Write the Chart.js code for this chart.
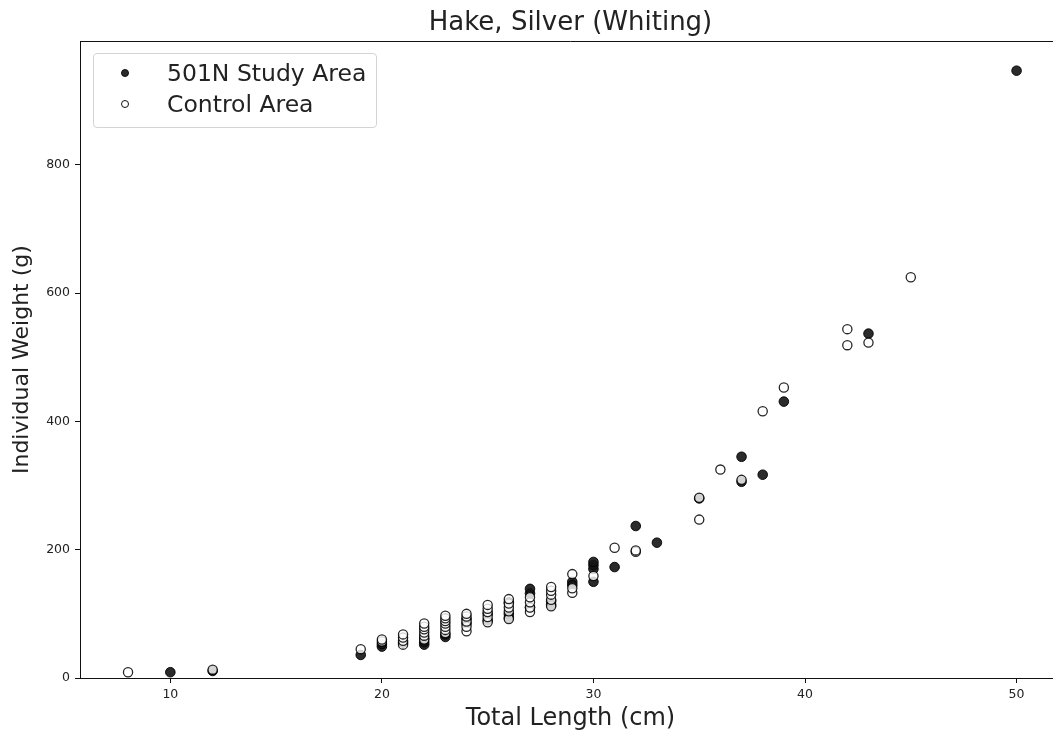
<!DOCTYPE html>
<html>
<head>
<meta charset="utf-8">
<title>Hake, Silver (Whiting)</title>
<script src="https://cdn.jsdelivr.net/npm/chart.js@4.4.1/dist/chart.umd.min.js"></script>
<style>
    html, body {
        margin: 0;
        padding: 0;
        background: #fff;
        overflow: hidden;
    }
    #wrap {
        position: relative;
        width: 1070px;
        height: 734px;
    }
    #leyenda {
        position: absolute;
        left: 93px;
        top: 53px;
        width: 282px;
        height: 73px;
        border: 1px solid #d4d4d4;
        border-radius: 4px;
        background: rgba(255, 255, 255, 0.8);
        font-family: "DejaVu Sans", sans-serif;
        font-size: 23.5px;
        color: #222;
    }
    .item {
        position: absolute;
        left: 0;
        height: 30px;
        line-height: 30px;
        white-space: nowrap;
    }
    .marca {
        position: absolute;
        left: 27px;
        top: 11px;
        width: 8px;
        height: 8px;
        border-radius: 50%;
        box-sizing: border-box;
        border: 1px solid #111;
    }
    .texto {
        position: absolute;
        left: 73px;
        top: 0;
    }
</style>
</head>
<body>
<div id="wrap">
    <canvas id="grafico" width="1070" height="734"></canvas>
    <div id="leyenda"></div>
</div>
<script>
// Total length (cm) and weight (g) per fish, two sampling areas
const studyLength = [10, 12, 19, 20, 20, 21, 22, 22, 22, 23, 23, 24, 24, 25, 25, 26, 26, 26, 27, 27, 27, 28, 28, 29, 29, 30, 30, 30, 30, 31, 32, 33, 35, 37, 37, 38, 39, 43, 50];
const studyWeight = [9, 11, 36, 49, 53, 55, 52, 56, 62, 64, 68, 85, 92, 90, 100, 94, 100, 118, 110, 132, 139, 114, 120, 150, 145, 150, 170, 176, 181, 173, 237, 211, 280, 345, 306, 317, 431, 537, 947];

const controlLength = [8, 12, 19, 20, 20, 21, 21, 21, 21, 22, 22, 22, 22, 22, 22, 23, 23, 23, 23, 23, 23, 23, 24, 24, 24, 24, 24, 25, 25, 25, 25, 25, 26, 26, 26, 26, 26, 27, 27, 27, 27, 28, 28, 28, 28, 28, 29, 29, 29, 30, 31, 32, 32, 35, 35, 36, 37, 38, 39, 42, 42, 43, 45];
const controlWeight = [9, 13, 45, 57, 60, 52, 58, 63, 68, 60, 66, 71, 76, 80, 85, 70, 75, 80, 85, 89, 93, 97, 73, 80, 88, 96, 100, 87, 95, 103, 108, 114, 92, 104, 110, 116, 123, 103, 110, 118, 126, 112, 122, 130, 136, 142, 133, 140, 162, 159, 203, 197, 199, 281, 247, 325, 309, 416, 453, 544, 519, 523, 625];

const xTicks = [10, 20, 30, 40, 50];
const yTicks = [0, 200, 400, 600, 800];

const fuente = "'DejaVu Sans', sans-serif";
const colorTexto = "#222";

function puntos(xs, ys) {
    return xs.map((x, i) => ({ x: x, y: ys[i] }));
}

// matplotlib-style frame: top spine
const marcoSuperior = {
    id: "marcoSuperior",
    afterDraw(chart) {
        const { ctx, chartArea } = chart;
        ctx.save();
        ctx.strokeStyle = "#111";
        ctx.lineWidth = 1;
        ctx.beginPath();
        ctx.moveTo(chartArea.left, Math.round(chartArea.top) + 0.5);
        ctx.lineTo(chartArea.right, Math.round(chartArea.top) + 0.5);
        ctx.stroke();
        ctx.restore();
    }
};

const ctx = document.getElementById("grafico").getContext("2d");
const chartInstance = new Chart(ctx, {
    type: "scatter",
    data: {
        datasets: [{
            label: "501N Study Area",
            data: puntos(studyLength, studyWeight),
            backgroundColor: "rgba(20, 20, 20, 0.9)",
            borderColor: "rgba(0, 0, 0, 0.9)",
            borderWidth: 1,
            pointRadius: 4.8,
            order: 1
        }, {
            label: "Control Area",
            data: puntos(controlLength, controlWeight),
            backgroundColor: "rgba(255, 255, 255, 0.8)",
            borderColor: "rgba(0, 0, 0, 0.85)",
            borderWidth: 1.3,
            pointRadius: 4.6,
            order: 0
        }]
    },
    options: {
        responsive: false,
        animation: false,
        events: [],
        devicePixelRatio: 1,
        layout: { padding: { left: 0, right: 9, top: 0, bottom: 0 } },
        plugins: {
            legend: { display: false },
            tooltip: { enabled: false },
            title: {
                display: true,
                fullSize: false,
                text: "Hake, Silver (Whiting)",
                color: colorTexto,
                font: { family: fuente, size: 26, weight: "normal" },
                padding: { top: 8, bottom: 2 }
            }
        },
        scales: {
            x: {
                type: "linear",
                min: 5.73,
                max: 52.1,
                afterFit: scale => { scale.height = 56; },
                afterBuildTicks: scale => { scale.ticks = xTicks.map(v => ({ value: v })); },
                border: { color: "#111", width: 1 },
                grid: { drawOnChartArea: false, drawTicks: true, tickLength: 5, color: "#111" },
                ticks: {
                    color: colorTexto,
                    font: { family: fuente, size: 12.5 },
                    padding: 4,
                    maxRotation: 0
                },
                title: {
                    display: true,
                    text: "Total Length (cm)",
                    color: colorTexto,
                    font: { family: fuente, size: 24 },
                    padding: { top: 0, bottom: 1 }
                }
            },
            y: {
                type: "linear",
                min: 0,
                max: 993,
                afterFit: scale => { scale.width = 80; },
                afterBuildTicks: scale => { scale.ticks = yTicks.map(v => ({ value: v })); },
                border: { color: "#111", width: 1 },
                grid: { drawOnChartArea: false, drawTicks: true, tickLength: 5, color: "#111" },
                ticks: {
                    color: colorTexto,
                    font: { family: fuente, size: 12.5 },
                    padding: 5
                },
                title: {
                    display: true,
                    text: "Individual Weight (g)",
                    color: colorTexto,
                    font: { family: fuente, size: 22 },
                    padding: { top: 9, bottom: 0 }
                }
            }
        }
    },
    plugins: [marcoSuperior]
});

// legend box built from the datasets
const leyenda = document.getElementById("leyenda");
chartInstance.data.datasets.forEach((ds, i) => {
    const item = document.createElement("div");
    item.className = "item";
    item.style.top = (4 + i * 31) + "px";
    const marca = document.createElement("span");
    marca.className = "marca";
    marca.style.background = ds.backgroundColor;
    const texto = document.createElement("span");
    texto.className = "texto";
    texto.textContent = ds.label;
    item.appendChild(marca);
    item.appendChild(texto);
    leyenda.appendChild(item);
});
</script>
</body>
</html>
